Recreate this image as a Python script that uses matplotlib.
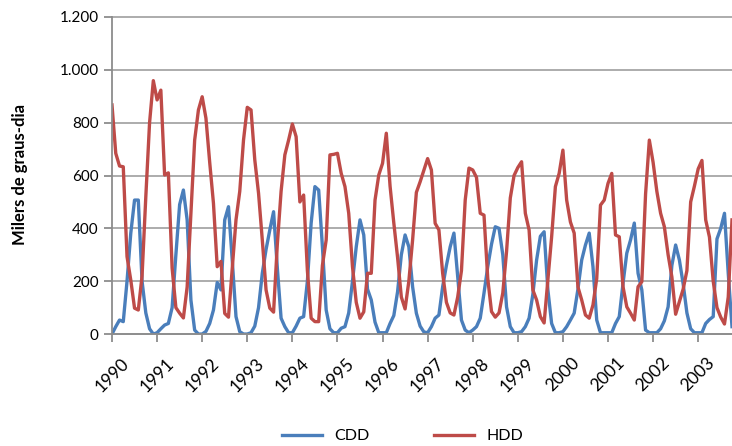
import matplotlib.pyplot as plt
import numpy as np

plt.rcParams['font.family'] = ['Lato', 'DejaVu Sans']

years = ['1990', '1991', '1992', '1993', '1994', '1995', '1996',
         '1997', '1998', '1999', '2000', '2001', '2002', '2003']

# monthly values, Jan 1990 .. Oct 2003
cdd = [
    0, 28, 53, 47, 200, 382, 507, 507, 200, 80, 20, 0,        # 1990
    5, 20, 34, 40, 100, 300, 490, 545, 432, 129, 15, 0,       # 1991
    0, 10, 40, 91, 195, 167, 432, 482, 280, 66, 9, 0,         # 1992
    0, 5, 30, 100, 230, 320, 394, 463, 250, 60, 28, 5,        # 1993
    5, 30, 60, 66, 200, 420, 558, 545, 330, 91, 20, 5,        # 1994
    5, 22, 28, 80, 200, 330, 432, 375, 170, 129, 45, 5,       # 1995
    5, 5, 40, 70, 160, 300, 375, 330, 179, 79, 30, 8,         # 1996
    5, 28, 60, 72, 179, 260, 330, 382, 217, 53, 15, 5,        # 1997
    15, 28, 60, 155, 255, 340, 406, 400, 300, 103, 28, 5,     # 1998
    5, 9, 28, 60, 150, 280, 370, 387, 167, 40, 5, 5,          # 1999
    9, 28, 53, 79, 170, 280, 337, 382, 255, 53, 5, 5,         # 2000
    5, 5, 40, 66, 192, 306, 356, 420, 230, 167, 15, 5,        # 2001
    5, 5, 20, 50, 103, 260, 337, 280, 190, 80, 20, 5,         # 2002
    5, 5, 40, 55, 66, 360, 400, 457, 230, 28,                 # 2003
]

hdd = [
    867, 684, 636, 633, 293, 204, 98, 91, 220, 520, 800, 959,     # 1990
    886, 923, 602, 610, 250, 100, 79, 61, 178, 460, 734, 848,     # 1991
    898, 817, 650, 495, 255, 275, 78, 64, 250, 432, 540, 734,     # 1992
    858, 848, 659, 533, 356, 167, 98, 83, 340, 540, 678, 734,     # 1993
    795, 747, 500, 526, 240, 60, 47, 47, 260, 356, 678, 680,      # 1994
    684, 608, 558, 457, 255, 120, 60, 84, 230, 230, 507, 602,     # 1995
    646, 760, 560, 420, 290, 140, 95, 200, 356, 536, 576, 620,    # 1996
    664, 621, 419, 394, 230, 120, 80, 72, 140, 240, 507, 628,     # 1997
    621, 593, 457, 450, 210, 85, 64, 80, 155, 312, 515, 600,      # 1998
    630, 652, 457, 394, 167, 129, 66, 42, 204, 368, 558, 608,     # 1999
    696, 507, 424, 382, 178, 129, 72, 60, 110, 210, 488, 507,     # 2000
    570, 608, 375, 368, 179, 103, 79, 53, 179, 198, 530, 734,     # 2001
    650, 540, 457, 406, 300, 216, 75, 123, 170, 240, 500, 560,    # 2002
    625, 657, 432, 367, 200, 100, 64, 38, 140, 432,               # 2003
]

x = np.arange(len(cdd))

fig = plt.figure(figsize=(7.32, 4.46), dpi=100)
ax = fig.add_axes([0.153, 0.251, 0.847, 0.711])

ax.plot(x, cdd, color='#4A7EBB', lw=2.4, label='CDD', solid_joinstyle='round')
ax.plot(x, hdd, color='#BE4B48', lw=2.4, label='HDD', solid_joinstyle='round')

ax.set_xlim(0, len(cdd) - 1)
ax.set_ylim(0, 1200)
ax.set_yticks(range(0, 1201, 200))
ax.set_yticklabels(['0', '200', '400', '600', '800', '1.000', '1.200'], fontsize=11)
ax.set_xticks(np.arange(0, len(cdd), 12))
ax.set_xticklabels(years, rotation=45, ha='center', va='top', fontsize=12.5)

ax.yaxis.grid(True, color='#A6A6A6', lw=1.3)
for gl in ax.get_ygridlines():
    gl.set_clip_on(False)
ax.set_axisbelow(True)

for s in ['top', 'right']:
    ax.spines[s].set_visible(False)
for s in ['left', 'bottom']:
    ax.spines[s].set_color('#8C8C8C')
    ax.spines[s].set_linewidth(1.3)
ax.tick_params(axis='both', colors='#8C8C8C', length=6, width=1.3)
ax.tick_params(axis='both', labelcolor='black')
ax.tick_params(axis='x', pad=9)

fig.text(0.027, 0.608, 'Milers de graus-dia', rotation=90, va='center', ha='center',
         fontsize=12, fontweight='bold')

fig.legend(loc='center', bbox_to_anchor=(0.55, 0.022), ncol=2, frameon=False,
           fontsize=11.5, handlelength=2.5, columnspacing=4.0)

fig.savefig('out.png', dpi=100)
